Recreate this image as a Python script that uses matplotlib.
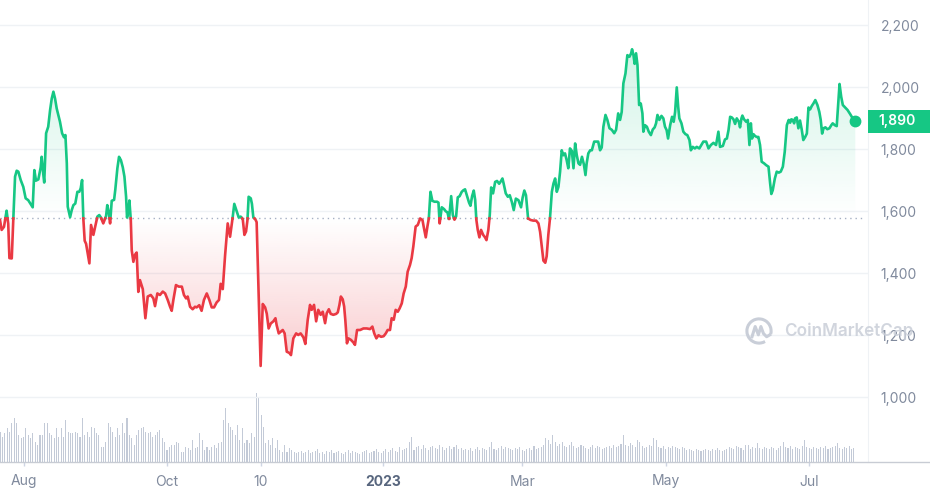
import numpy as np
import pandas as pd
import matplotlib
matplotlib.use("Agg")
import matplotlib.pyplot as plt
import matplotlib.dates as mdates
import matplotlib.colors as mcolors
import matplotlib.transforms as mtransforms
from matplotlib.path import Path
from matplotlib.patches import Arc, Rectangle

plt.rcParams['font.family'] = ['Inter', 'DejaVu Sans']

# ---- data --------------------------------------------------------------
start = "2022-07-22"          # first day shown
baseline = 1577                # price at the start of the window (dotted line)
last_price = 1890

# price samples: days after `start`, USD
price_day = [
    0.0, 0.7, 1.7, 2.8, 3.5, 4.0, 5.0, 5.7, 6.4, 7.1,
    7.8, 8.8, 9.9, 10.9, 12.0, 13.0, 13.9, 14.6, 15.3, 16.3,
    17.3, 17.7, 18.4, 18.8, 19.6, 20.5, 21.3, 22.0, 22.7, 23.4,
    24.1, 24.8, 25.5, 26.4, 27.2, 27.8, 28.4, 28.8, 29.8, 30.5,
    31.2, 32.0, 32.9, 33.7, 34.3, 34.9, 35.4, 36.0, 36.6, 38.0,
    38.7, 39.7, 40.5, 41.4, 42.2, 42.9, 43.9, 45.1, 45.6, 46.3,
    46.8, 47.5, 48.5, 49.0, 49.9, 50.6, 51.4, 52.2, 52.9, 53.6,
    54.0, 54.6, 55.0, 55.6, 56.0, 56.7, 57.4, 58.1, 58.4,
    58.8, 59.5, 60.7, 61.8, 62.8, 64.1, 65.2, 65.9, 66.9, 68.0,
    69.2, 70.2, 71.3, 72.3, 73.0, 73.7, 74.8, 76.0, 77.3, 78.2,
    79.1, 79.8, 80.8, 81.9, 82.9, 83.6, 84.7, 85.7, 86.7, 87.9,
    89.0, 90.0, 91.0, 92.1, 93.1, 93.8, 94.7, 95.7, 96.8, 97.8,
    98.6, 99.6, 100.6, 101.5, 102.3, 103.2, 103.9, 104.6, 105.2, 105.7,
    106.6, 107.1, 107.7, 108.5, 109.1,
    110.8, 111.7, 112.7, 113.4, 114.2, 115.1, 116.2, 117.1, 117.6, 118.5,
    119.3, 120.2, 121.0, 121.9, 123.0, 123.7, 124.7, 125.9, 126.8, 127.8,
    129.0, 129.8, 130.8, 131.8, 132.5, 133.5, 134.4, 135.3, 136.3, 137.2,
    138.2, 138.9, 139.8, 140.6, 141.7, 142.9, 143.6, 144.3, 144.9, 145.7,
    146.3, 146.8, 147.5,
    148.1, 149.2, 150.2, 150.9, 151.8, 153.1, 154.5, 155.9, 157.3, 158.3,
    159.1, 160.0, 160.9, 162.0, 163.1, 164.0, 164.8, 165.8, 166.5, 167.4,
    168.2, 169.1, 169.9, 170.8, 171.6, 172.5, 173.3, 174.3, 175.0, 175.7,
    176.7, 177.6, 178.6, 179.6, 180.1, 181.0, 181.7, 182.3, 183.0, 183.8,
    184.7, 185.8, 186.4, 186.9, 187.8, 188.8, 189.5, 190.2, 190.9, 191.8,
    192.5, 193.2, 193.9, 194.6, 195.4, 196.3, 197.0, 197.7, 198.6, 199.4,
    200.0, 200.7, 201.4, 202.0, 202.5, 203.1, 203.8, 204.5, 205.4, 206.2,
    206.8, 207.6, 208.2, 208.8, 209.6, 210.5, 211.3, 212.2, 213.0, 213.6,
    214.1, 215.0, 215.9, 216.7, 217.6, 218.4, 219.3, 220.4, 221.5, 222.2,
    222.9,
    223.6, 224.5, 225.6, 226.7, 227.9, 228.9, 229.6, 230.3, 231.0, 231.8,
    232.4, 233.1, 233.8, 234.6, 235.3, 236.0, 236.7, 237.4, 238.1, 238.8,
    239.5, 240.2, 240.9, 241.6, 242.3, 243.1, 243.8, 244.5, 245.2, 245.9,
    246.6, 247.4, 248.2, 248.9, 249.4, 250.1, 250.9, 251.6, 252.6, 253.4,
    254.3, 255.1, 255.8, 256.5, 257.4, 258.2, 259.1, 260.1, 261.1, 261.9,
    262.8, 263.6, 264.3, 265.0, 265.9, 266.7, 267.6, 268.3, 268.7, 269.3,
    269.8, 270.4, 271.0, 271.7, 272.4, 273.1, 273.5, 274.2, 275.0, 275.8,
    276.7, 277.5, 278.3, 278.9, 279.5, 280.3, 281.2, 282.0, 282.7, 283.4,
    284.0, 284.9, 285.7, 286.4, 287.0, 287.7, 288.3, 288.8, 289.7, 290.5,
    291.4, 292.2, 293.1, 293.7, 294.5, 295.4, 296.2, 297.3,
    299.0, 300.2, 301.2, 302.2, 303.3, 304.4, 305.4, 306.1, 307.3, 308.2,
    309.0, 309.7, 310.4, 311.1, 311.8, 312.5, 313.2, 314.1, 314.6, 315.2,
    315.6, 316.3, 317.2, 317.9, 318.6, 319.2, 319.7, 320.3, 321.0, 321.7,
    322.4, 323.1, 323.8, 324.8, 325.7, 326.7, 327.4, 327.9, 328.5, 329.4,
    330.2, 331.1, 331.9, 332.8, 333.6, 334.5, 335.3, 335.9, 336.4, 337.0,
    337.6, 338.0, 338.7, 339.4, 340.1, 340.8, 341.5, 342.3, 343.0, 343.7,
    344.4, 345.1, 345.8, 346.6, 347.5, 348.3, 348.9, 349.5, 350.1, 350.9,
    351.7, 352.6, 353.4, 354.0, 354.9, 355.7, 356.4, 356.9, 357.6, 358.3,
    359.3, 360.3, 361.4, 362.5, 363.6,
]
price_usd = [
    1572, 1540, 1550, 1602, 1560, 1449, 1448, 1583, 1712, 1731,
    1728, 1701, 1679, 1642, 1636, 1624, 1613, 1733, 1699, 1703,
    1742, 1776, 1720, 1693, 1852, 1873, 1927, 1964, 1986, 1964,
    1932, 1911, 1889, 1852, 1839, 1846, 1755, 1615, 1581, 1604,
    1620, 1625, 1663, 1663, 1674, 1701, 1580, 1505, 1495, 1432,
    1556, 1524, 1551, 1583, 1588, 1580, 1561, 1585, 1620, 1594,
    1561, 1634, 1637, 1669, 1739, 1776, 1765, 1742, 1712, 1647,
    1580, 1602, 1635, 1573, 1474, 1437, 1460, 1467, 1411,
    1340, 1378, 1349, 1255, 1325, 1330, 1319, 1294, 1335, 1330,
    1341, 1335, 1314, 1292, 1279, 1314, 1362, 1357, 1357, 1330,
    1319, 1325, 1292, 1284, 1292, 1290, 1297, 1279, 1314, 1335,
    1314, 1290, 1290, 1306, 1314, 1366, 1349, 1459, 1561, 1518,
    1561, 1624, 1601, 1580, 1583, 1575, 1524, 1535, 1572, 1647,
    1642, 1624, 1580, 1575, 1565,
    1101, 1301, 1290, 1270, 1222, 1238, 1245, 1255, 1233, 1206,
    1211, 1217, 1206, 1147, 1143, 1136, 1190, 1206, 1201, 1206,
    1193, 1172, 1249, 1298, 1282, 1298, 1245, 1282, 1266, 1276,
    1239, 1271, 1284, 1269, 1266, 1269, 1274, 1298, 1325, 1316,
    1293, 1249, 1174,
    1190, 1185, 1177, 1169, 1217, 1217, 1222, 1222, 1220, 1228,
    1206, 1190, 1200, 1195, 1197, 1206, 1217, 1217, 1255, 1250,
    1282, 1276, 1287, 1303, 1335, 1357, 1405, 1427, 1449, 1486,
    1551, 1556, 1577, 1572, 1551, 1516, 1551, 1577, 1663, 1634,
    1631, 1631, 1628, 1561, 1613, 1607, 1600, 1597, 1575, 1649,
    1588, 1573, 1584, 1645, 1649, 1663, 1668, 1671, 1648, 1628,
    1618, 1649, 1667, 1637, 1573, 1540, 1516, 1540, 1524, 1516,
    1507, 1540, 1588, 1677, 1658, 1695, 1698, 1689, 1698, 1706,
    1690, 1658, 1647, 1652, 1630, 1604, 1641, 1636, 1613, 1645,
    1667,
    1652, 1577, 1572, 1570, 1570, 1561, 1534, 1486, 1441, 1434,
    1455, 1524, 1577, 1663, 1690, 1706, 1663, 1679, 1728, 1797,
    1781, 1787, 1765, 1739, 1803, 1795, 1739, 1819, 1781, 1755,
    1750, 1776, 1752, 1717, 1755, 1787, 1797, 1797, 1825, 1825,
    1825, 1797, 1806, 1873, 1911, 1895, 1868, 1863, 1852, 1863,
    1916, 1895, 1921, 2013, 2045, 2104, 2099, 2110, 2123, 2104,
    2076, 2110, 2072, 1943, 1948, 1916, 1857, 1878, 1873, 1857,
    1846, 1864, 1871, 1884, 1911, 1895, 1908, 1900, 1873, 1862,
    1835, 1878, 1905, 1889, 1921, 2000, 1938, 1900, 1884, 1857,
    1849, 1846, 1830, 1797, 1808, 1803, 1808, 1803,
    1825, 1825, 1803, 1814, 1821, 1814, 1857, 1808, 1811, 1832,
    1835, 1862, 1905, 1903, 1897, 1882, 1900, 1889, 1871, 1900,
    1909, 1897, 1889, 1895, 1814, 1884, 1835, 1849, 1843, 1840,
    1840, 1814, 1760, 1755, 1749, 1744, 1690, 1656, 1668, 1706,
    1728, 1725, 1728, 1744, 1792, 1878, 1895, 1886, 1897, 1895,
    1884, 1900, 1903, 1868, 1893, 1865, 1830, 1840, 1851, 1935,
    1929, 1940, 1948, 1959, 1943, 1921, 1895, 1851, 1868, 1871,
    1865, 1868, 1878, 1884, 1878, 1875, 1954, 2011, 1970, 1943,
    1935, 1927, 1914, 1900, 1892,
]

# daily traded volume (USD bn), one bar per day from `start`
volume_bn = [
    30, 25, 29, 34, 30, 39, 44, 39, 27, 24, 25, 34, 27, 24, 29, 20,
    17, 27, 27, 39, 39, 29, 27, 24, 34, 25, 34, 25, 42,
    30, 29, 29, 30, 29, 25, 44, 27, 30, 25, 35, 34, 29, 27,
    15, 15, 20, 39, 35, 30, 25, 34, 27, 39, 29, 44, 27, 24,
    17, 27, 32, 34, 35, 30, 29, 30, 25, 27, 30, 32, 24, 20,
    12, 15, 17, 17, 20, 19, 10, 10, 15, 14, 12, 22, 14, 15, 29,
    22, 12, 15, 12, 15, 17, 14, 19, 20, 42, 54, 39, 35, 32,
    27, 37, 22, 34, 19, 22, 19, 29, 25, 69, 64, 47, 35, 19, 22,
    17, 24, 14, 22, 12, 10, 17, 10, 14, 12, 10, 9, 10,
    11, 9, 10, 12, 9, 10, 11, 13, 9, 10, 8, 11, 10, 12, 9, 10, 11, 9,
    8, 10, 12, 9, 11, 10, 9, 8, 10, 11, 12, 9, 10, 11, 13, 10, 9,
    11, 13, 10, 12, 14, 11, 10, 15, 12, 13, 14, 20, 25, 12, 15, 16, 13, 17,
    14, 12, 15, 16, 14, 13, 17, 15, 12, 14, 16, 13, 15, 17, 13, 14, 12,
    13, 12, 14, 11, 13, 15, 12, 14, 13, 12,
    15, 20, 13, 12, 14, 16, 13, 15, 14, 13,
    12, 14, 13, 15, 12, 11, 13, 14, 12, 16,
    13, 14, 15, 17, 24, 22, 18, 27, 20, 16,
    18, 20, 16, 15, 17, 20, 16, 14, 15, 17,
    16, 14, 13, 15, 17, 14, 16, 15, 13, 14,
    15, 16, 14, 17, 15, 16, 18, 27, 17, 16,
    19, 17, 15, 22, 20, 16, 14, 15, 17, 16,
    24, 22, 15, 14, 16, 13, 15, 14, 16, 15,
    14, 13, 15, 14, 12, 13, 12, 11, 13, 12,
    11, 12, 13, 12, 11, 13, 12, 14, 12, 11,
    12, 13, 15, 14, 13, 16, 15, 14, 12, 17,
    17, 13, 15, 14, 19, 14, 13, 15, 14, 13,
    15, 14, 12, 14, 16, 20, 15, 14, 16, 13,
    15, 14, 13, 16, 22, 15, 14, 13, 15, 14,
    13, 15, 14, 16, 13, 14, 15, 16, 19, 14,
    13, 15, 14, 16, 13, 14,
]

y_ticks = [1000, 1200, 1400, 1600, 1800, 2000, 2200]
x_tick_dates = ["2022-08-01", "2022-10-01", "2022-11-10", "2023-01-01",
                "2023-03-01", "2023-05-01", "2023-07-01"]
x_tick_labels = ["Aug", "Oct", "10", "2023", "Mar", "May", "Jul"]

GREEN = "#16c784"
RED = "#ea3943"
GRID = "#eff2f5"
LABEL = "#808a9d"
VOL = "#c3cad7"

# ---- prepare -----------------------------------------------------------
t0 = mdates.date2num(pd.Timestamp(start))
t = t0 + np.array(price_day, float)
p = np.array(price_usd, float)

# split the line where it crosses the baseline
tt, pp = [t[0]], [p[0]]
for i in range(1, len(p)):
    a, b = p[i - 1] - baseline, p[i] - baseline
    if a * b < 0:
        f = a / (a - b)
        tt.append(t[i - 1] + f * (t[i] - t[i - 1]))
        pp.append(baseline)
    tt.append(t[i])
    pp.append(p[i])
tt, pp = np.array(tt), np.array(pp)
up = np.where(pp >= baseline, pp, np.nan)
dn = np.where(pp <= baseline, pp, np.nan)

vol_t = t0 + np.arange(len(volume_bn))

# ---- figure ------------------------------------------------------------
fig = plt.figure(figsize=(9.3, 4.95), dpi=100)
rect = [0, 33 / 495, 868 / 930, 462 / 495]
xlim = (t0, t0 + 369)

vax = fig.add_axes(rect)
vax.bar(vol_t, volume_bn, width=0.45, color=VOL, linewidth=0)
vax.set_xlim(*xlim)
vax.set_ylim(0, max(volume_bn) * 6.7)
vax.axis('off')

ax = fig.add_axes(rect)
ax.patch.set_visible(False)
ax.set_xlim(*xlim)
ax.set_ylim(791, 2282)

for v in y_ticks:
    ax.axhline(v, color=GRID, lw=1, zorder=0)


def gradient_fill(mask, color, lo, hi, a_lo, a_hi):
    coll = ax.fill_between(tt, pp, baseline, where=mask, facecolor='none',
                           edgecolor='none')
    clip = Path.make_compound_path(*coll.get_paths())
    img = np.zeros((256, 1, 4))
    img[..., :3] = mcolors.to_rgb(color)
    img[:, 0, 3] = np.linspace(a_lo, a_hi, 256)
    im = ax.imshow(img, extent=[tt.min(), tt.max(), lo, hi], origin='lower',
                   aspect='auto', zorder=1, interpolation='bilinear')
    im.set_clip_path(clip, transform=ax.transData)


gradient_fill(pp >= baseline, GREEN, baseline, 2130, 0.0, 0.2)
gradient_fill(pp <= baseline, RED, 1100, baseline, 0.26, 0.0)
ax.set_xlim(*xlim)
ax.set_ylim(791, 2282)

ax.axhline(baseline, xmax=865 / 868, color="#a6b0c3", lw=1,
           linestyle=(0, (1, 2.8)), zorder=2)

ax.plot(tt, up, color=GREEN, lw=1.9, zorder=3, solid_joinstyle='round')
ax.plot(tt, dn, color=RED, lw=1.9, zorder=3, solid_joinstyle='round')
ax.plot(t[-1], p[-1], 'o', color=GREEN, ms=7.5, zorder=4)

# axes and labels
for s in ['top', 'left', 'bottom']:
    ax.spines[s].set_visible(False)
ax.spines['right'].set_color(GRID)
ax.plot([0, 930 / 868], [0, 0], transform=ax.transAxes, clip_on=False,
        color="#c8ccd4", lw=1, zorder=5)

ax.yaxis.tick_right()
ax.set_yticks(y_ticks)
ax.set_yticklabels([f"{v:,}" for v in y_ticks])
ax.tick_params(axis='y', length=0, pad=9, labelsize=10, labelcolor=LABEL)

ax.set_xticks(mdates.date2num(pd.to_datetime(x_tick_dates)))
ax.set_xticklabels(x_tick_labels)
ax.tick_params(axis='x', length=3, width=1, color="#cfd6e4", pad=6,
               labelsize=10, labelcolor=LABEL)
lbl = ax.get_xticklabels()[x_tick_labels.index("2023")]
lbl.set_fontweight('bold')
lbl.set_color("#58667e")

# current price badge
bt = mtransforms.blended_transform_factory(ax.transAxes, ax.transData)
ax.add_patch(Rectangle((1.0, last_price - 37), 62 / 868, 74, transform=bt,
                       facecolor=GREEN, edgecolor='none', clip_on=False,
                       zorder=6))
ax.text(1.0 + 10 / 868, last_price, f"{last_price:,}", transform=bt,
        ha='left', va='center', color='white', fontsize=10,
        fontweight='semibold', zorder=7, clip_on=False)

# watermark
fig.text(784 / 930, 1 - 331 / 495, "CoinMarketCap", fontsize=12.3,
         fontweight='semibold', color="#c9ced8", ha='left', va='center',
         alpha=0.85, zorder=10)
lax = fig.add_axes([745 / 930, 1 - 345 / 495, 28 / 930, 28 / 495])
lax.set_xlim(-1.1, 1.1)
lax.set_ylim(-1.1, 1.1)
lax.axis('off')
lax.add_patch(Arc((0, 0), 1.9, 1.9, theta1=-15, theta2=300,
                  color="#c9ced8", lw=2.2))
lax.plot([-0.55, -0.3, -0.05, 0.15, 0.35, 0.6, 0.85],
         [-0.45, 0.35, -0.3, 0.35, -0.2, -0.45, -0.3],
         color="#c9ced8", lw=2.2, solid_joinstyle='round')

fig.savefig("out.png", dpi=100, facecolor='white')
